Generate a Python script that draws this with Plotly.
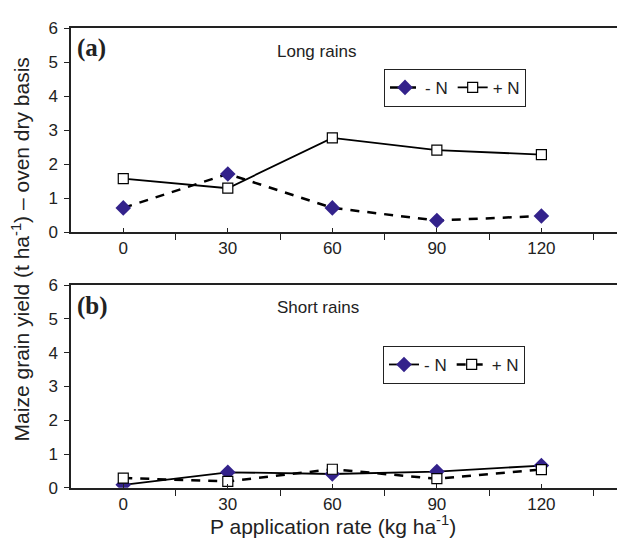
import plotly.graph_objects as go

p_rates = [0, 30, 60, 90, 120]
long_minus_n = [0.71, 1.71, 0.71, 0.34, 0.47]
long_plus_n = [1.57, 1.29, 2.77, 2.41, 2.28]
short_minus_n = [0.09, 0.46, 0.41, 0.48, 0.66]
short_plus_n = [0.29, 0.19, 0.55, 0.27, 0.54]
y_ticks = [0, 1, 2, 3, 4, 5, 6]

NAVY = "#33228b"
FONT = "Liberation Sans, Arial, sans-serif"
SERIF = "Liberation Serif, Times New Roman, serif"
DASH = "9px,8px"

fig = go.Figure()

# Panel (a)
fig.add_trace(go.Scatter(x=p_rates, y=long_minus_n, name="- N", mode="lines+markers",
                         line=dict(color="black", width=2.5, dash=DASH),
                         marker=dict(symbol="diamond", size=12, color=NAVY, line=dict(width=0)),
                         xaxis="x", yaxis="y", legend="legend"))
fig.add_trace(go.Scatter(x=p_rates, y=long_plus_n, name="+ N", mode="lines+markers",
                         line=dict(color="black", width=1.8),
                         marker=dict(symbol="square", size=10, color="white", line=dict(color="black", width=1.2)),
                         xaxis="x", yaxis="y", legend="legend"))
# Panel (b)
fig.add_trace(go.Scatter(x=p_rates, y=short_minus_n, name="- N", mode="lines+markers",
                         line=dict(color="black", width=1.8),
                         marker=dict(symbol="diamond", size=12, color=NAVY, line=dict(width=0)),
                         xaxis="x2", yaxis="y2", legend="legend2"))
fig.add_trace(go.Scatter(x=p_rates, y=short_plus_n, name="+ N", mode="lines+markers",
                         line=dict(color="black", width=2.5, dash=DASH),
                         marker=dict(symbol="square", size=10, color="white", line=dict(color="black", width=1.2)),
                         xaxis="x2", yaxis="y2", legend="legend2"))

W, H = 617, 549
xdom = [71 / W, 1.0]
ydom_a = [(H - 231) / H, (H - 20) / H]
ydom_b = [(H - 496) / H, (H - 286) / H]

xaxis_common = dict(
    range=[-15, 141.7], domain=xdom,
    tickmode="array", tickvals=p_rates, ticktext=[str(v) for v in p_rates],
    ticks="inside", ticklen=4, tickwidth=1, tickcolor="#222",
    showline=True, linecolor="#222", linewidth=1.5, mirror=True,
    showgrid=False, zeroline=False,
    tickfont=dict(family=FONT, size=17, color="#222"),
    minor=dict(tickmode="array", tickvals=[-15, 15, 45, 75, 105, 135],
               ticks="outside", ticklen=6, tickwidth=1, tickcolor="#222", showgrid=False),
)
yaxis_common = dict(
    range=[0, 6], tickmode="array", tickvals=y_ticks,
    ticks="outside", ticklen=5, tickwidth=1, tickcolor="#222",
    showline=True, linecolor="#222", linewidth=1.5,
    showgrid=False, zeroline=False, ticklabelstandoff=3,
    tickfont=dict(family=FONT, size=17, color="#222"),
)

legend_common = dict(orientation="h", xanchor="left", yanchor="top",
                     bordercolor="#222", borderwidth=1, bgcolor="white",
                     font=dict(family=FONT, size=17, color="#222"), itemwidth=30,
                     tracegroupgap=0)

fig.update_layout(
    width=W, height=H, margin=dict(l=0, r=0, t=0, b=0),
    paper_bgcolor="white", plot_bgcolor="white",
    xaxis=dict(**xaxis_common, anchor="y"),
    yaxis=dict(**yaxis_common, domain=ydom_a, anchor="x"),
    xaxis2=dict(**xaxis_common, anchor="y2"),
    yaxis2=dict(**yaxis_common, domain=ydom_b, anchor="x2"),
    legend=dict(**legend_common, x=384 / W, y=(H - 62) / H),
    legend2=dict(**legend_common, x=383 / W, y=(H - 349) / H),
    showlegend=True,
)

annotations = [
    dict(text="<b>(a)</b>", x=75 / W, y=(H - 40) / H, xref="paper", yref="paper",
         xanchor="left", yanchor="middle", showarrow=False,
         font=dict(family=SERIF, size=25, color="#222")),
    dict(text="Long rains", x=316 / W, y=(H - 44) / H, xref="paper", yref="paper",
         xanchor="center", yanchor="middle", showarrow=False,
         font=dict(family=FONT, size=17, color="#222")),
    dict(text="<b>(b)</b>", x=75 / W, y=(H - 308) / H, xref="paper", yref="paper",
         xanchor="left", yanchor="middle", showarrow=False,
         font=dict(family=SERIF, size=25, color="#222")),
    dict(text="Short rains", x=318 / W, y=(H - 309) / H, xref="paper", yref="paper",
         xanchor="center", yanchor="middle", showarrow=False,
         font=dict(family=FONT, size=17, color="#222")),
    dict(text="Maize grain yield (t ha<sup>-1</sup>) \u2013 oven dry basis", x=21 / W, y=(H - 249) / H,
         xref="paper", yref="paper", xanchor="center", yanchor="middle", textangle=-90,
         showarrow=False, font=dict(family=FONT, size=21, color="#222")),
    dict(text="P application rate (kg ha<sup>-1</sup>)", x=333 / W, y=(H - 534) / H,
         xref="paper", yref="paper", xanchor="center", yanchor="middle",
         showarrow=False, font=dict(family=FONT, size=21, color="#222")),
]
fig.update_layout(annotations=annotations)

fig.write_html("out.html", config={"displayModeBar": False},
               post_script="document.body.style.margin='0';")
